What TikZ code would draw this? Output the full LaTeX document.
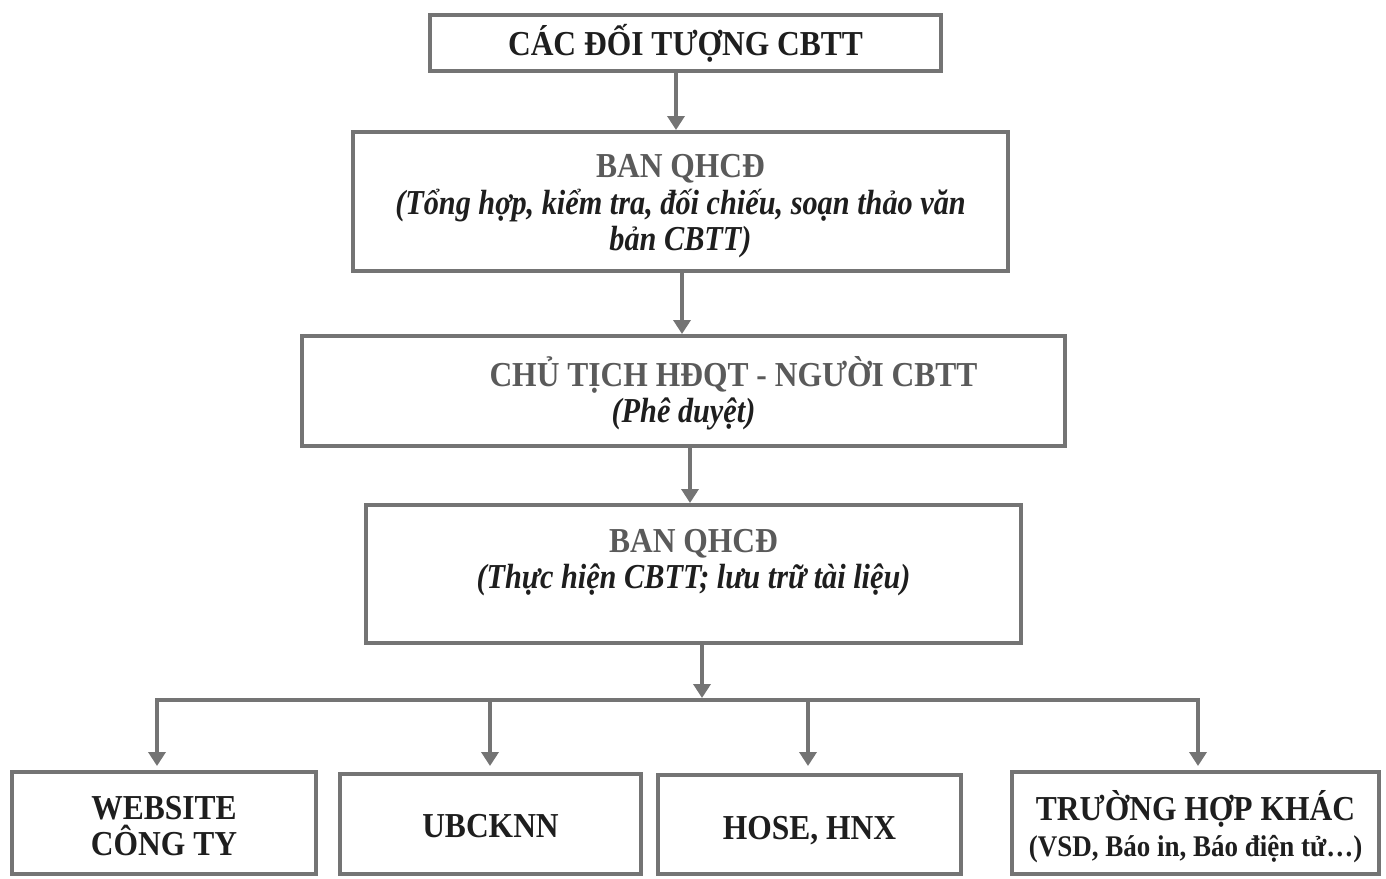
\documentclass[tikz,border=0pt]{standalone}
\usepackage{fontspec}
\setmainfont{Liberation Serif}[
  UprightFeatures={FakeStretch=0.9},
  BoldFeatures={FakeStretch=0.9},
  ItalicFeatures={FakeStretch=0.865},
  BoldItalicFeatures={FakeStretch=0.865}]
\usetikzlibrary{arrows.meta}
\definecolor{bordergray}{HTML}{747474}
\definecolor{titlegray}{HTML}{5A5A5A}
\definecolor{inkdark}{HTML}{1E1E1E}
\newcommand{\topstrut}[1]{\rule{0pt}{#1}}
\begin{document}
\begin{tikzpicture}[x=1pt,y=-1pt,
  box/.style={draw=bordergray, line width=4pt, rectangle, inner sep=0pt,
    align=center, font=\fontsize{35}{36.5}\selectfont\bfseries, text=inkdark},
  arr/.style={draw=bordergray, line width=4pt, line join=miter,
    -{Triangle[width=17pt,length=14pt]}}
]
\useasboundingbox (0,0) rectangle (1386,878);

\node[box, minimum width=511pt, minimum height=56pt] (b1) at (685.5,43)
  {CÁC ĐỐI TƯỢNG CBTT};
\node[box, minimum width=655pt, minimum height=139pt] (b2) at (680.5,201.5)
  {\topstrut{33pt}\textcolor{titlegray}{BAN QHCĐ}\\
   \textit{(Tổng hợp, kiểm tra, đối chiếu, soạn thảo văn}\\
   \textit{bản CBTT)}};
\node[box, minimum width=763pt, minimum height=110pt] (b3) at (683.5,391)
  {\hspace*{100pt}\topstrut{35pt}\textcolor{titlegray}{CHỦ TỊCH HĐQT - NGƯỜI CBTT}\\
   \textit{(Phê duyệt)}};
\node[box, minimum width=655pt, minimum height=138pt] (b4) at (693.5,574)
  {\topstrut{29pt}\textcolor{titlegray}{BAN QHCĐ}\\
   \textit{(Thực hiện CBTT; lưu trữ tài liệu)}\\
   \mbox{}};
\node[box, minimum width=304pt, minimum height=102pt] (b5) at (164,823)
  {\topstrut{29pt}WEBSITE\\CÔNG TY};
\node[box, minimum width=301pt, minimum height=100pt] (b6) at (490.5,824)
  {\topstrut{27pt}UBCKNN};
\node[box, minimum width=303pt, minimum height=99pt] (b7) at (809.5,824.5)
  {\topstrut{35pt}HOSE, HNX};
\node[box, minimum width=367pt, minimum height=102pt] (b8) at (1195.5,823)
  {\topstrut{37pt}TRƯỜNG HỢP KHÁC\\
   {\fontsize{30}{32}\selectfont (VSD, Báo in, Báo điện tử…)}};

\coordinate (a1) at (676,0);
\coordinate (a2) at (682,0);
\coordinate (a3) at (690,0);
\coordinate (bus) at (702,699);
\coordinate (busL) at (157,700);
\coordinate (busR) at (1198,700);
\coordinate (d6) at (490,700);
\coordinate (d7) at (808,700);

\draw[arr] (b1.south -| a1) -- (b2.north -| a1);
\draw[arr] (b2.south -| a2) -- (b3.north -| a2);
\draw[arr] (b3.south -| a3) -- (b4.north -| a3);
\draw[arr, shorten >=1pt] (b4.south -| bus) -- (bus);
\draw[arr, shorten >=4pt] (bus |- busL) -- (busL) -- (b5.north -| busL);
\draw[arr, shorten >=4pt] (bus |- busR) -- (busR) -- (b8.north -| busR);
\draw[arr, shorten >=6pt] (d6) -- (b6.north -| d6);
\draw[arr, shorten >=7pt] (d7) -- (b7.north -| d7);
\end{tikzpicture}
\end{document}
